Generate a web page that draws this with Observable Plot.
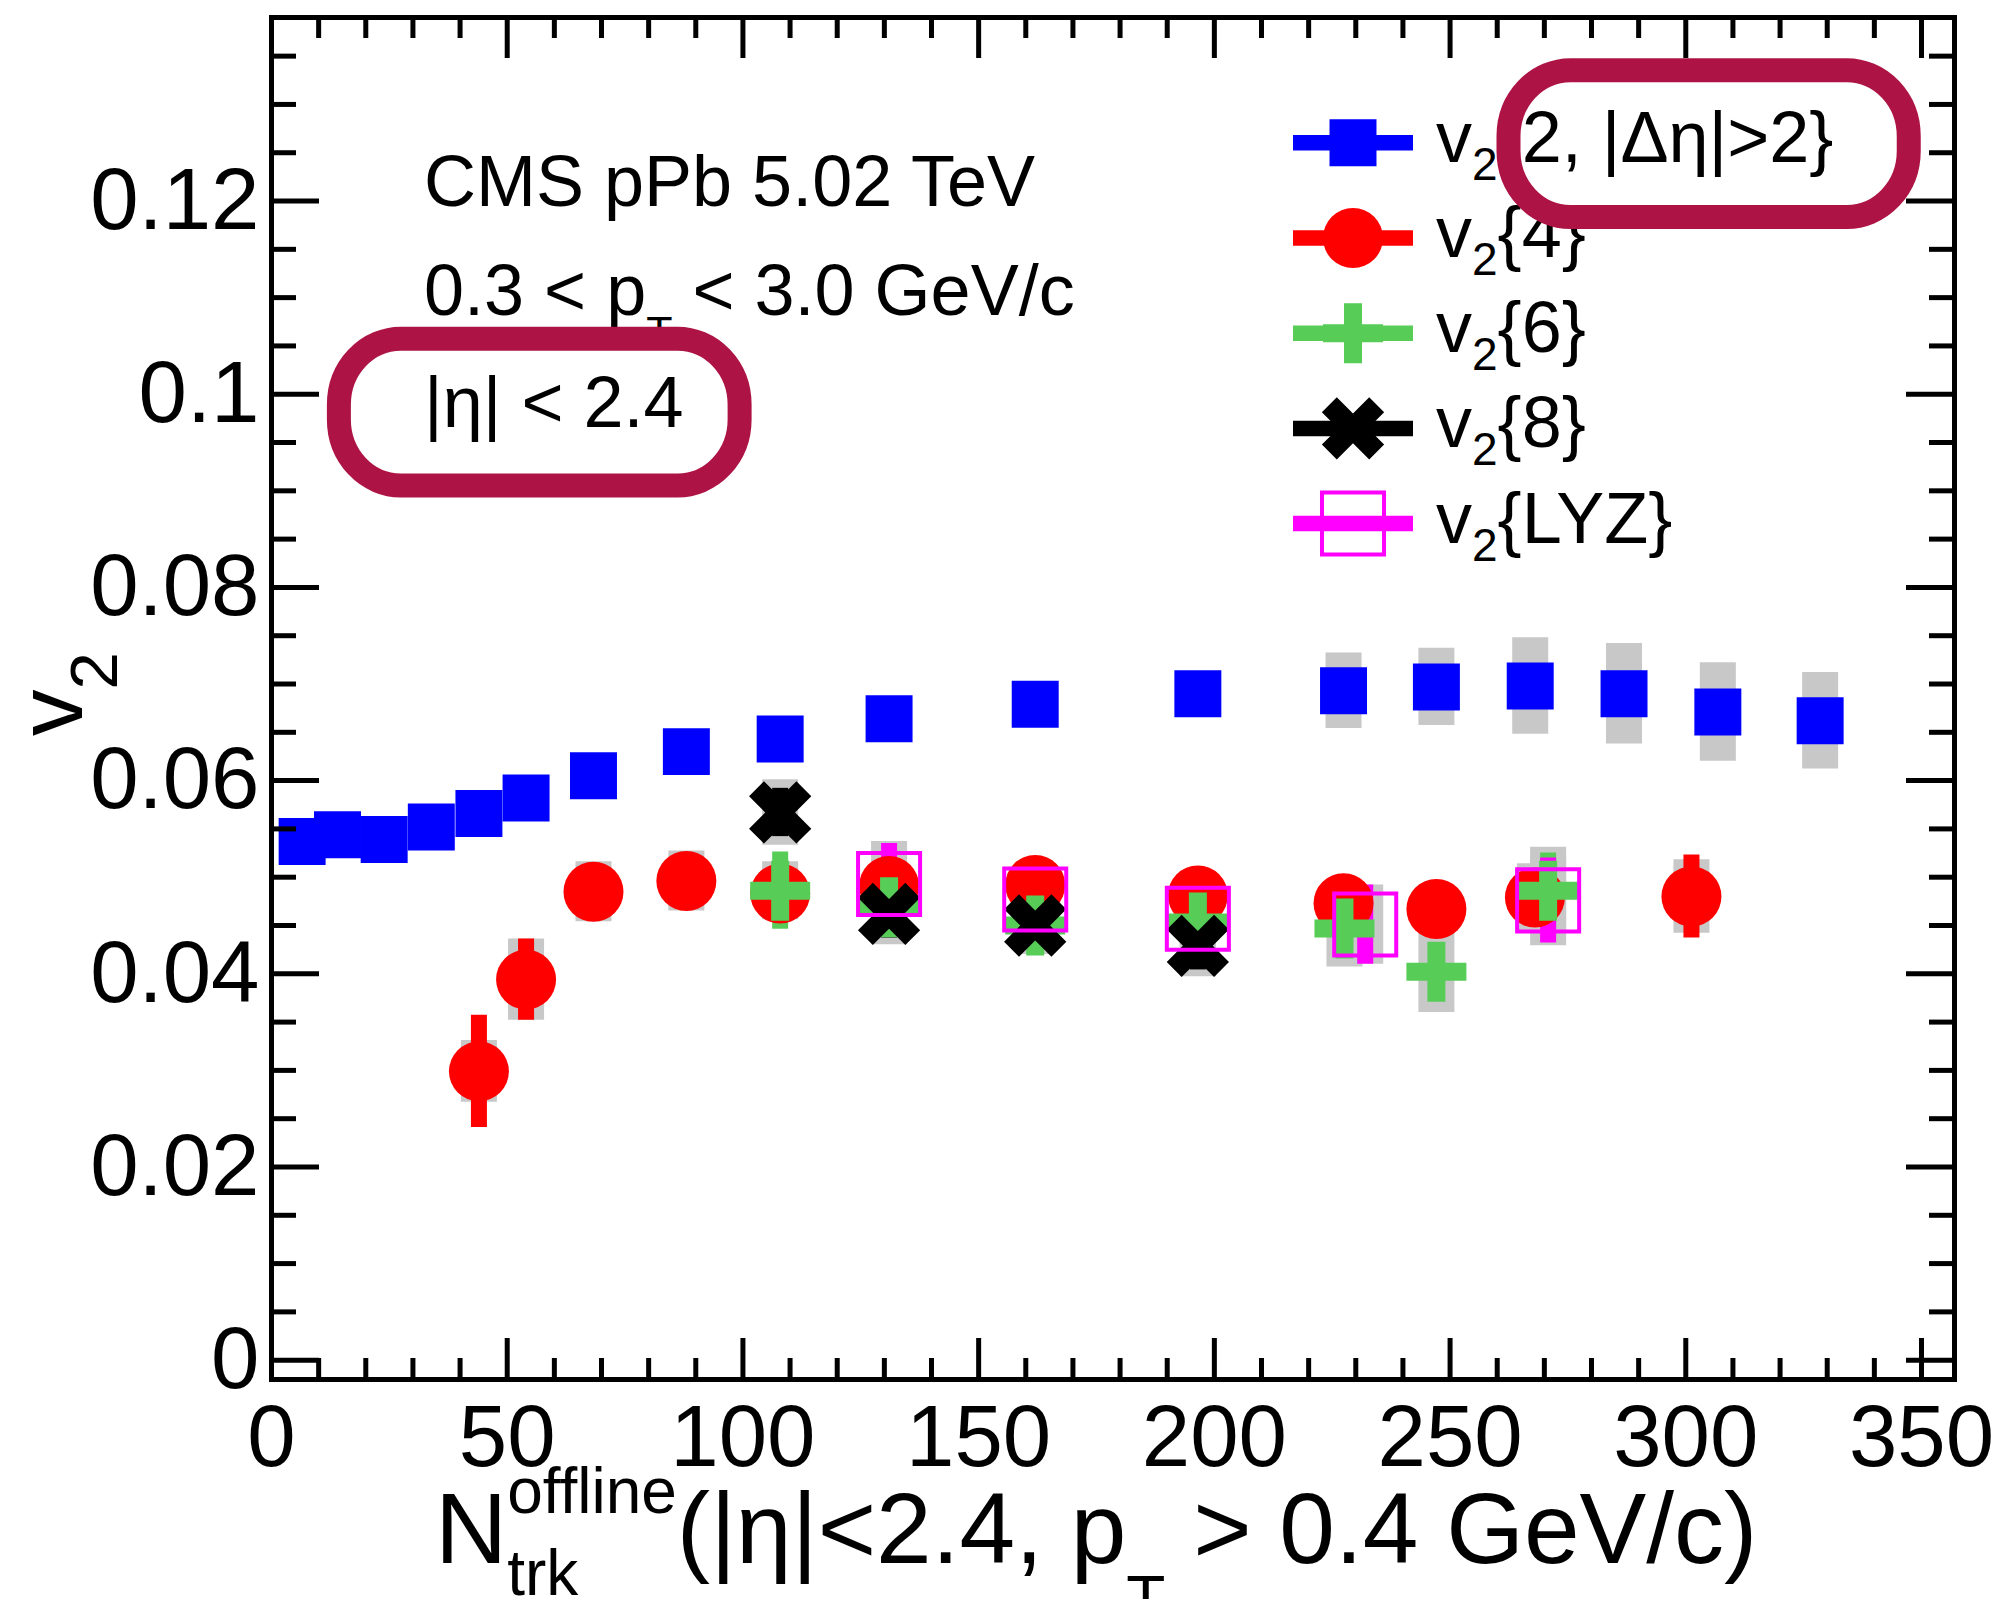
<!DOCTYPE html>
<html>
<head>
<meta charset="utf-8">
<script src="https://cdn.jsdelivr.net/npm/d3@7"></script>
<script src="https://cdn.jsdelivr.net/npm/@observablehq/plot@0.6"></script>
<style>
html, body { margin: 0; padding: 0; background: #fff; overflow: hidden; }
#chart svg text { white-space: pre; }
</style>
</head>
<body>
<div id="chart"></div>
<script>
// ---------------- data ----------------
// v2{2, |Δη|>2}
const v22N    = [6.5, 14.0, 23.9, 33.9, 44.0, 54.0, 68.3, 88.0, 107.9, 131.0, 162.0, 196.5, 227.4, 247.1, 267.0, 286.9, 306.8, 328.5];
const v22Val  = [0.0537, 0.0544, 0.0539, 0.0552, 0.0566, 0.0582, 0.0605, 0.0630, 0.0643, 0.0664, 0.0679, 0.0690, 0.0693, 0.0697, 0.0698, 0.0690, 0.0671, 0.0662];
const v22Stat = [0.0005, 0.0005, 0.0005, 0.0005, 0.0005, 0.0005, 0.0005, 0.0005, 0.0005, 0.0005, 0.0005, 0.0006, 0.0007, 0.0008, 0.0009, 0.0010, 0.0012, 0.0014];
const v22Syst = [0.0015, 0.0015, 0.0015, 0.0015, 0.0015, 0.0015, 0.0016, 0.0017, 0.0018, 0.0019, 0.0020, 0.0021, 0.0039, 0.0040, 0.0050, 0.0052, 0.0051, 0.0050];

// v2{4}
const v24N    = [44.0, 54.0, 68.3, 88.0, 107.9, 131.0, 162.0, 196.5, 227.4, 247.1, 268.0, 301.2];
const v24Val  = [0.0299, 0.0394, 0.0485, 0.0496, 0.0483, 0.0491, 0.0492, 0.0481, 0.0473, 0.0467, 0.0479, 0.0480];
const v24Stat = [0.0058, 0.0042, 0.0015, 0.0015, 0.0015, 0.0020, 0.0020, 0.0020, 0.0025, 0.0025, 0.0030, 0.0043];
const v24Syst = [0.0032, 0.0042, 0.0031, 0.0031, 0.0025, 0.0025, 0.0025, 0.0025, 0.0025, 0.0025, 0.0035, 0.0038];

// v2{6}
const v26N    = [107.9, 131.0, 162.0, 196.5, 227.6, 247.1, 270.8];
const v26Val  = [0.0486, 0.0469, 0.0450, 0.0453, 0.0447, 0.0402, 0.0486];
const v26Stat = [0.0040, 0.0030, 0.0030, 0.0030, 0.0030, 0.0030, 0.0039];
const v26Syst = [0.0030, 0.0030, 0.0030, 0.0030, 0.0040, 0.0042, 0.0045];

// v2{8}
const v28N    = [107.9, 131.0, 162.0, 196.5];
const v28Val  = [0.0567, 0.0462, 0.0450, 0.0429];
const v28Stat = [0.0025, 0.0025, 0.0025, 0.0025];
const v28Syst = [0.0034, 0.0032, 0.0030, 0.0032];

// v2{LYZ}
const vLYZN    = [131.0, 162.0, 196.5, 232.0, 270.8];
const vLYZVal  = [0.0493, 0.0477, 0.0457, 0.0451, 0.0476];
const vLYZStat = [0.0042, 0.0030, 0.0030, 0.0041, 0.0044];
const vLYZSyst = [0.0044, 0.0030, 0.0030, 0.0041, 0.0047];

// legend labels (text after the "v" + subscript "2")
const legendLabels = ["{2, |Δη|>2}", "{4}", "{6}", "{8}", "{LYZ}"];

// axis ticks and labels
const xMajorTicks = [0, 50, 100, 150, 200, 250, 300, 350];
const xTickLabels = ["0", "50", "100", "150", "200", "250", "300", "350"];
const xMinorTicks = [10, 20, 30, 40, 60, 70, 80, 90, 110, 120, 130, 140, 160, 170, 180, 190, 210, 220, 230, 240, 260, 270, 280, 290, 310, 320, 330, 340];
const yMajorTicks = [0, 0.02, 0.04, 0.06, 0.08, 0.10, 0.12];
const yTickLabels = ["0", "0.02", "0.04", "0.06", "0.08", "0.1", "0.12"];
const yMinorTicks = [0.005, 0.01, 0.015, 0.025, 0.03, 0.035, 0.045, 0.05, 0.055, 0.065, 0.07, 0.075, 0.085, 0.09, 0.095, 0.105, 0.11, 0.115, 0.125, 0.13, 0.135];

// annotation texts and highlighted regions (in data coordinates)
const annotLines = ["CMS pPb 5.02 TeV", "0.3 < p", "T", " < 3.0 GeV/c", "|η| < 2.4"];
const highlightBoxes = [
  {x1: 14.4, x2: 99.4, y1: 0.0905, y2: 0.1057},
  {x1: 262.5, x2: 347.4, y1: 0.1183, y2: 0.1335}
];

// ---------------- style ----------------
const FONT = "'Liberation Sans', Arial, Helvetica, sans-serif";
const C = {blue: "#0000ff", red: "#ff0000", green: "#57cd57", black: "#000000", magenta: "#ff00ff", gray: "#c8c8c8", oval: "#ad1445"};

const W = 1999, H = 1599;
const mL = 271, mR = 45, mT = 17, mB = 220;
const innerW = W - mL - mR, innerH = H - mT - mB;

function poly(ctx, pts) {
  ctx.moveTo(pts[0][0], pts[0][1]);
  for (let i = 1; i < pts.length; i++) ctx.lineTo(pts[i][0], pts[i][1]);
  ctx.closePath();
}
function plusPoints(h, t) {
  return [[-t,-h],[t,-h],[t,-t],[h,-t],[h,t],[t,t],[t,h],[-t,h],[-t,t],[-h,t],[-h,-t],[-t,-t]];
}
const crossSym = {draw(ctx, size) { const r = Math.sqrt(size / Math.PI); poly(ctx, plusPoints(r, r * 0.3)); }};
const xSym = {draw(ctx, size) {
  const r = Math.sqrt(size / Math.PI), L = r * 1.08, t = r * 0.34, c = Math.SQRT1_2;
  poly(ctx, plusPoints(L, t).map(([x, y]) => [(x - y) * c, (x + y) * c]));
}};
const squareSym = {draw(ctx, size) { const s = Math.sqrt(size) / 2; ctx.rect(-s, -s, 2 * s, 2 * s); }};

const series = [
  {N: v22N, v: v22Val, stat: v22Stat, syst: v22Syst, color: C.blue, symbol: squareSym, r: 26.5, open: false},
  {N: v24N, v: v24Val, stat: v24Stat, syst: v24Syst, color: C.red, symbol: "circle", r: 30, open: false},
  {N: v26N, v: v26Val, stat: v26Stat, syst: v26Syst, color: C.green, symbol: crossSym, r: 30, open: false},
  {N: v28N, v: v28Val, stat: v28Stat, syst: v28Syst, color: C.black, symbol: xSym, r: 31, open: false},
  {N: vLYZN, v: vLYZVal, stat: vLYZStat, syst: vLYZSyst, color: C.magenta, symbol: squareSym, r: 35, open: true}
];
const tables = series.map(s => s.N.map((n, i) => ({N: n, v: s.v[i], stat: s.stat[i], syst: s.syst[i]})));

const marks = [];
// systematic boxes
series.forEach((s, k) => marks.push(Plot.ruleX(tables[k], {x: "N", y1: d => d.v - d.syst, y2: d => d.v + d.syst, stroke: C.gray, strokeWidth: 36})));
// statistical bars
series.forEach((s, k) => marks.push(Plot.ruleX(tables[k], {x: "N", y1: d => d.v - d.stat, y2: d => d.v + d.stat, stroke: s.color, strokeWidth: 16})));
// markers
series.forEach((s, k) => marks.push(Plot.dot(tables[k], {
  x: "N", y: "v", r: s.r, symbol: s.symbol,
  fill: s.open ? "none" : s.color,
  stroke: s.open ? s.color : "none",
  strokeWidth: s.open ? 4 : 0
})));
// ticks (inside the frame, on all four sides)
const tk = {stroke: "black", strokeWidth: 5};
marks.push(
  Plot.tickX(xMajorTicks, {x: d => d, insetTop: innerH - 41, ...tk}),
  Plot.tickX(xMinorTicks, {x: d => d, insetTop: innerH - 21, ...tk}),
  Plot.tickX(xMajorTicks, {x: d => d, insetBottom: innerH - 41, ...tk}),
  Plot.tickX(xMinorTicks, {x: d => d, insetBottom: innerH - 21, ...tk}),
  Plot.tickY(yMajorTicks, {y: d => d, insetRight: innerW - 48, ...tk}),
  Plot.tickY(yMinorTicks, {y: d => d, insetRight: innerW - 25, ...tk}),
  Plot.tickY(yMajorTicks, {y: d => d, insetLeft: innerW - 48, ...tk}),
  Plot.tickY(yMinorTicks, {y: d => d, insetLeft: innerW - 25, ...tk}),
  Plot.frame({stroke: "black", strokeWidth: 5})
);

const plot = Plot.plot({
  width: W, height: H,
  marginLeft: mL, marginRight: mR, marginTop: mT, marginBottom: mB,
  style: {fontFamily: FONT, fontSize: "87px", background: "white", color: "black"},
  x: {domain: [0, 357], ticks: xMajorTicks, tickFormat: d => xTickLabels[xMajorTicks.indexOf(d)], tickSize: 0, tickPadding: 25, label: null},
  y: {domain: [-0.002, 0.139], ticks: yMajorTicks, tickFormat: d => yTickLabels[yMajorTicks.findIndex(t => Math.abs(t - d) < 1e-9)], tickSize: 0, tickPadding: 12, label: null},
  marks
});
document.getElementById("chart").appendChild(plot);

const sx = plot.scale("x"), sy = plot.scale("y");
const svg = d3.select(plot);
const layer = svg.append("g").attr("font-family", FONT).attr("fill", "black").attr("text-anchor", "start");

function drawRich(parent, x, y, segs) {
  const g = parent.append("g").attr("text-anchor", "start");
  let cx = x, stackX = x;
  for (const s of segs) {
    const px = s.stack ? stackX : cx;
    const t = g.append("text")
      .attr("x", px).attr("y", y + (s.dy || 0))
      .attr("font-size", s.size)
      .attr("text-anchor", "start")
      .style("white-space", "pre")
      .text(s.text);
    const w = t.node().getComputedTextLength();
    if (s.stack) cx = Math.max(cx, px + w);
    else { stackX = cx; cx = cx + w; }
  }
  return g;
}

// annotation texts
drawRich(layer, 424, 206, [{text: annotLines[0], size: 72}]);
drawRich(layer, 424, 315, [{text: annotLines[1], size: 72}, {text: annotLines[2], size: 43, dy: 31}, {text: annotLines[3], size: 72}]);
drawRich(layer, 424, 427, [{text: annotLines[4], size: 72}]);

// axis titles
drawRich(layer, 435, 1563, [
  {text: "N", size: 100},
  {text: "offline", size: 64, dy: -50},
  {text: "trk", size: 64, dy: 32, stack: true},
  {text: "(|η|<2.4, p", size: 100},
  {text: "T", size: 64, dy: 58},
  {text: " > 0.4 GeV/c)", size: 100}
]);
const yTitle = layer.append("g").attr("transform", "translate(82,736) rotate(-90)");
drawRich(yTitle, 0, 0, [{text: "v", size: 93}, {text: "2", size: 67, dy: 35}]);

// legend
const legX0 = 1293, legX1 = 1413, legMX = 1353, legTX = 1436, legY0 = 142.8, legDY = 95.2;
series.forEach((s, k) => {
  const cy = legY0 + k * legDY;
  const g = layer.append("g");
  g.append("line").attr("x1", legX0).attr("x2", legX1).attr("y1", cy).attr("y2", cy)
    .attr("stroke", s.color).attr("stroke-width", 15.5);
  const p = d3.path();
  const size = s.r * s.r * Math.PI;
  if (s.symbol === "circle") p.arc(0, 0, s.r, 0, 2 * Math.PI);
  else s.symbol.draw(p, size);
  g.append("path").attr("d", p.toString()).attr("transform", `translate(${legMX},${cy})`)
    .attr("fill", s.open ? "none" : s.color)
    .attr("stroke", s.open ? s.color : "none")
    .attr("stroke-width", s.open ? 4 : 0);
  drawRich(layer, legTX, cy + 19, [{text: "v", size: 72}, {text: "2", size: 46, dy: 18}, {text: legendLabels[k], size: 72}]);
});

// highlight ovals
highlightBoxes.forEach(b => {
  const x1 = sx.apply(b.x1), x2 = sx.apply(b.x2), y1 = sy.apply(b.y2), y2 = sy.apply(b.y1);
  layer.append("rect").attr("x", x1).attr("y", y1).attr("width", x2 - x1).attr("height", y2 - y1)
    .attr("rx", 62).attr("ry", 66)
    .attr("fill", "none").attr("stroke", C.oval).attr("stroke-width", 24);
});
</script>
</body>
</html>
